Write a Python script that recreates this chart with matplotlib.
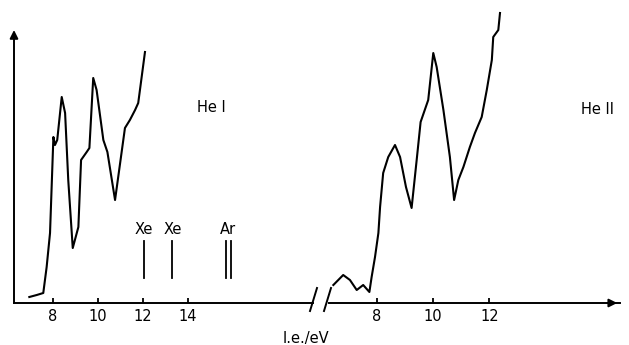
"""Photoelectron spectra, He I and He II, on a broken energy axis"""
import matplotlib
matplotlib.use("Agg")
import matplotlib.pyplot as plt
from matplotlib.lines import Line2D

# He I spectrum: ionisation energy (eV) and count rate (arb. units)
hei_energy = [6.97, 7.30, 7.59, 7.74, 7.89, 8.04, 8.11, 8.21, 8.41, 8.56,
              8.70, 8.90, 9.15, 9.27, 9.52, 9.64, 9.81, 9.96, 10.26, 10.44,
              10.78, 11.22, 11.44, 11.67, 11.81, 12.11]
hei_counts = [6, 8, 10, 36, 70, 166, 158, 163, 206, 190,
              123, 55, 76, 143, 151, 155, 225, 213, 163, 151,
              103, 175, 183, 193, 200, 251]

# He II spectrum
heii_energy = [6.46, 6.81, 7.05, 7.29, 7.52, 7.74, 7.82, 7.94, 8.06, 8.12,
               8.23, 8.41, 8.65, 8.83, 9.04, 9.24, 9.42, 9.56, 9.83, 10.01,
               10.13, 10.37, 10.60, 10.75, 10.90, 11.08, 11.31, 11.49, 11.73,
               11.91, 12.09, 12.14, 12.32, 12.38]
heii_counts = [18, 28, 23, 13, 18, 11, 26, 46, 70, 96,
               130, 146, 158, 146, 116, 95, 143, 181, 203, 250,
               236, 193, 146, 103, 123, 136, 156, 170, 186,
               213, 243, 266, 273, 290]

# calibration lines
cal_labels = ["Xe", "Xe", "Ar", "Ar"]
cal_energy = [12.05, 13.33, 15.71, 15.92]

hei_ticks = [8, 10, 12, 14]
heii_ticks = [8, 10, 12]

W, H = 629, 345
fig = plt.figure(figsize=(W / 100, H / 100), dpi=100)
fig.patch.set_facecolor("white")

base = 303  # baseline row in pixels
bottom = 1 - base / H
height = base / H

ax1 = fig.add_axes([14 / W, bottom, (313 - 14) / W, height])
ax2 = fig.add_axes([323 / W, bottom, (620 - 323) / W, height])

lw = 1.5
for ax in (ax1, ax2):
    ax.set_ylim(0, base)
    for s in ax.spines.values():
        s.set_visible(False)
    ax.set_yticks([])
    ax.patch.set_alpha(0)
    ax.tick_params(axis="x", direction="in", length=3.5, width=1.3,
                   labelsize=10.5, pad=4)

# left panel: x range chosen so 8..14 sit where the scale puts them
ax1.set_xlim(8 + (14 - 52.5) / 22.5, 8 + (313 - 52.5) / 22.5)
ax2.set_xlim(8 + (323 - 376.7) / 28.15, 8 + (620 - 376.7) / 28.15)
ax1.set_xticks(hei_ticks)
ax2.set_xticks(heii_ticks)

ax1.plot(hei_energy, hei_counts, color="black", lw=lw, clip_on=False)
ax2.plot(heii_energy, heii_counts, color="black", lw=lw, clip_on=False)

# baseline pieces
ax1.plot([0, 1], [0, 0], transform=ax1.transAxes, color="black", lw=1.4,
         clip_on=False)
ax2.plot([0.02, 1], [0, 0], transform=ax2.transAxes, color="black", lw=1.4,
         clip_on=False)
ax2.annotate("", xy=(1.0, 0), xytext=(0.95, 0), xycoords="axes fraction",
             arrowprops=dict(arrowstyle="-|>", color="black", lw=1.4,
                             mutation_scale=12))
# vertical axis with arrow
ax1.annotate("", xy=(0, 273 / base), xytext=(0, 0), xycoords="axes fraction",
             arrowprops=dict(arrowstyle="-|>", color="black", lw=1.4,
                             mutation_scale=12, shrinkA=0, shrinkB=0))

# calibration markers
for lab, e in zip(cal_labels, cal_energy):
    ax1.plot([e, e], [25, 62], color="black", lw=1.3)
label_pos = {}
for lab, e in zip(cal_labels, cal_energy):
    label_pos.setdefault((lab, round(e)), []).append(e)
for (lab, _), es in label_pos.items():
    ax1.text(sum(es) / len(es), 66, lab, ha="center", va="bottom",
             fontsize=10.5)

ax1.text(15.04, 195, "He I", ha="center", va="center", fontsize=10.5)
ax2.text(15.83, 193, "He II", ha="center", va="center", fontsize=10.5)

# axis break marks
for x0 in (310, 324):
    fig.add_artist(Line2D([x0 / W, (x0 + 7) / W],
                          [1 - 311 / H, 1 - 288 / H],
                          color="black", lw=1.4))

fig.text(306 / W, 1 - 338 / H, "I.e./eV", ha="center", va="center",
         fontsize=10.5)

fig.savefig("out.png", dpi=100)
